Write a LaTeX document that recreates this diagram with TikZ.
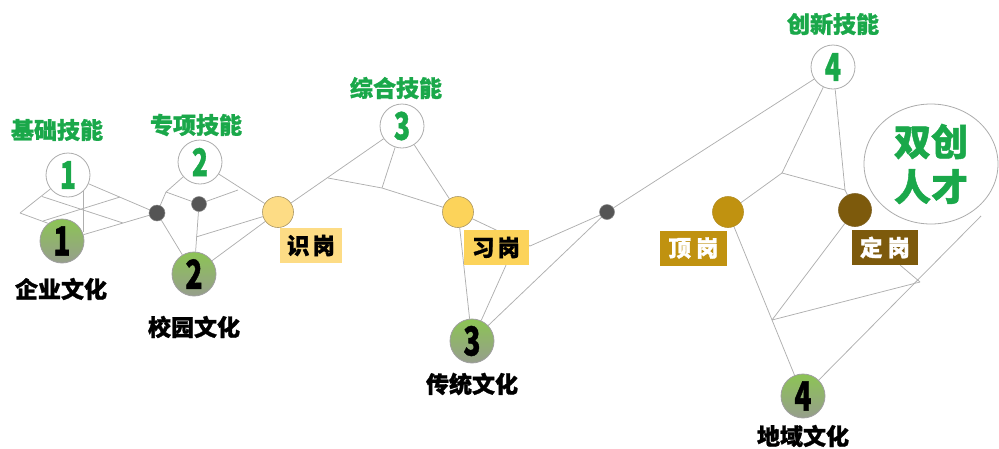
\documentclass[tikz,border=0pt]{standalone}
\usepackage{fontspec}
\setmainfont{Noto Sans CJK SC}[BoldFeatures={FakeBold=1.2}]
\usetikzlibrary{shapes.geometric}
\pgfdeclarelayer{bg}
\pgfsetlayers{bg,main}
\definecolor{tgreen}{RGB}{26,168,74}
\definecolor{cgreen}{RGB}{140,196,84}
\definecolor{cgray}{RGB}{150,158,140}
\definecolor{dotgray}{RGB}{85,85,85}
\definecolor{linegray}{RGB}{175,175,175}
\definecolor{yA}{RGB}{253,220,133}
\definecolor{yB}{RGB}{252,211,90}
\definecolor{yC}{RGB}{192,146,16}
\definecolor{yD}{RGB}{125,90,12}
\definecolor{yedge}{RGB}{170,150,100}
\begin{document}
\begin{tikzpicture}[x=1pt,y=-1pt,
  skill/.style={circle, draw=gray!65, line width=0.8pt, fill=white, minimum size=44pt, inner sep=0pt, text=tgreen, font=\fontsize{38}{38}\selectfont\bfseries},
  culture/.style={circle, draw=gray!75, line width=0.8pt, top color=cgreen, bottom color=cgray, minimum size=44pt, inner sep=0pt, text=black, font=\fontsize{40}{40}\selectfont\bfseries},
  gdot/.style={circle, fill=dotgray, draw=dotgray!70!white, line width=0.5pt, minimum size=16pt, inner sep=0pt},
  ycirc/.style={circle, minimum size=31pt, inner sep=0pt, draw=yedge, line width=0.6pt},
  tag/.style={minimum width=65pt, minimum height=35pt, inner sep=0pt, font=\fontsize{22.5}{22.5}\selectfont\bfseries},
  title/.style={text=tgreen, font=\fontsize{23}{23}\selectfont\bfseries},
  clabel/.style={text=black, font=\fontsize{23}{23}\selectfont\bfseries},
  link/.style={draw=linegray, line width=0.75pt}
]
\useasboundingbox (0,0) rectangle (999,448);
\newcommand{\numc}[1]{\scalebox{0.7}[1]{#1}}
% skill circles
\node[skill] (S1) at (68,175) {\numc{1}};
\node[skill] (S2) at (200,162) {\numc{2}};
\node[skill] (S3) at (402,126) {\numc{3}};
\node[skill] (S4) at (833,67) {\numc{4}};
\node[title] (t1) at (57,130) {基础技能};
\node[title] (t2) at (196,125) {专项技能};
\node[title] (t3) at (396,88) {综合技能};
\node[title] (t4) at (833,24) {创新技能};
% culture circles
\node[culture] (C1) at (62,241) {\numc{1}};
\node[culture] (C2) at (194,274) {\numc{2}};
\node[culture] (C3) at (472,341) {\numc{3}};
\node[culture] (C4) at (803,396) {\numc{4}};
\node[clabel] (c1) at (61,289) {企业文化};
\node[clabel] (c2) at (194,327) {校园文化};
\node[clabel] (c3) at (472,384) {传统文化};
\node[clabel] (c4) at (803,436) {地域文化};
% gray dots
\node[gdot] (G1) at (157,213) {};
\node[gdot, minimum size=15pt] (G2) at (199,204) {};
\node[gdot, minimum size=15pt] (G3) at (607,212) {};
% yellow circles and tags
\node[ycirc, fill=yA] (Y1) at (278,212) {};
\node[ycirc, fill=yB] (Y2) at (458,212) {};
\node[ycirc, fill=yC, draw=yC!80!gray] (Y3) at (728,212) {};
\node[ycirc, fill=yD, draw=yD!80!gray, minimum size=33pt] (Y4) at (855,210) {};
\node[tag, fill=yA, minimum width=62pt] (B1) at (311,245.5) {识\hspace{3pt}岗};
\node[tag, fill=yB] (B2) at (496,247.5) {习\hspace{3pt}岗};
\node[tag, fill=yC, text=white, minimum width=67pt] (B3) at (693.5,248) {顶\hspace{5pt}岗};
\node[tag, fill=yD, text=white, minimum width=66pt] (B4) at (885,247.5) {定\hspace{5pt}岗};
% ellipse
\node[ellipse, draw=gray!65, line width=0.8pt, fill=white, minimum width=134pt, minimum height=120pt, inner sep=0pt, text=tgreen, align=center, font=\fontsize{37}{45}\selectfont\bfseries] (E) at (931,164) {双创\\人才};
% helper coordinates
\coordinate (P0) at (20,213);
\coordinate (P1) at (42,196.5);
\coordinate (P2) at (123,223);
\coordinate (P3) at (43,221);
\coordinate (P4) at (120,197);
\coordinate (Q1) at (166,192);
\coordinate (Q2) at (238,190);
\coordinate (Q3) at (196,237);
\coordinate (R1) at (328,178);
\coordinate (R2) at (382,188);
\coordinate (K1) at (530,246);
\coordinate (T1) at (782,173);
\coordinate (T2) at (845,190);
\coordinate (U1) at (772,320);
\coordinate (U2) at (920,282);
\coordinate (E1) at (981,216);
\begin{pgfonlayer}{bg}
% left lattice
\draw[link] (S1) -- (G1);
\draw[link] (C1) -- (G1);
\draw[link] (P0) -- (S1);
\draw[link] (P0) -- (C1.128);
\draw[link] (P1) -- (P2);
\draw[link] (P3) -- (P4);
\draw[link] (S1.-45) -- (S1.-45 |- C1.25);
% middle
\draw[link] (S2) -- (Q1) -- (G1);
\draw[link] (Q1) -- (G2);
\draw[link] (G2) -- (Q2);
\draw[link] (S2) -- (Y1);
\draw[link] (G2) -- (C2);
\draw[link] (G1) -- (C2);
\draw[link] (Q3) -- (Y1);
\draw[link] (C2) -- (Y1);
\draw[link] (Y1) -- (S3);
\draw[link] (R1) -- (R2) -- (Y2);
\draw[link] (S3) -- (R2);
\draw[link] (S3) -- (Y2);
\draw[link] (Y2) -- (K1) -- (G3);
\draw[link] (Y2) -- (C3);
\draw[link] (B2.south) ++(10,0) coordinate (B2s) (B2s) -- (C3);
\draw[link] (C3) -- (G3);
\draw[link] (G3) -- (S4);
% right
\draw[link] (S4) -- (T1) -- (T2);
\draw[link] (T1) -- (Y3);
\draw[link] (S4) -- (T2) -- (Y4);
\draw[link] (Y3) -- (C4);
\draw[link] (U1) -- (Y4);
\draw[link] (U1) -- (U2);
\draw[link] (B4.south east) ++(-18,0) coordinate (B4s) (B4s) -- (U2);
\draw[link] (C4) -- (E1);
\end{pgfonlayer}
\end{tikzpicture}
\end{document}
